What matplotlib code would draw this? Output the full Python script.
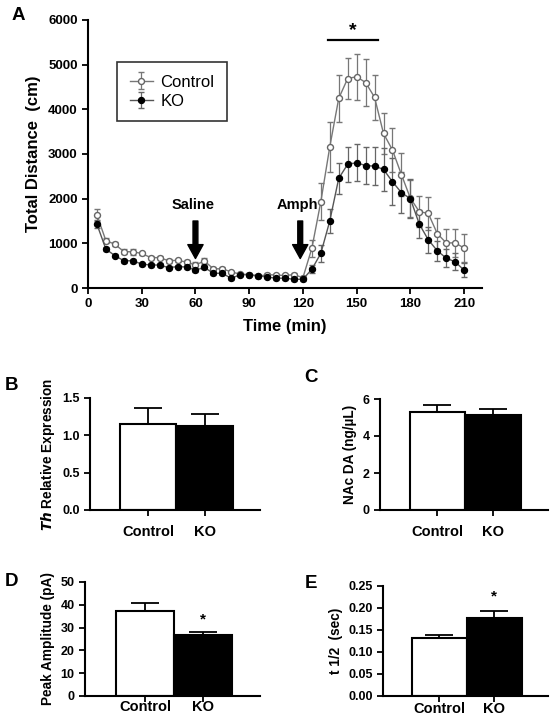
import matplotlib
matplotlib.use("Agg")
import matplotlib.pyplot as plt

plt.rcParams['font.family'] = ['Liberation Sans', 'DejaVu Sans']

# Panel A: locomotor activity (5-min bins)
time_min = list(range(5, 215, 5))
ctrl_dist = [1630, 1060, 980, 815, 810, 775, 680, 680, 610, 620, 580, 515,
             605, 430, 430, 360, 310, 300, 260, 300, 290, 280, 300, 230,
             890, 1930, 3160, 4245, 4690, 4730, 4600, 4270, 3460, 3090, 2540, 2010,
             1710, 1670, 1220, 1010, 1010, 895]
ctrl_sem = [130, 60, 50, 50, 60, 40, 40, 40, 40, 40, 40, 60,
            60, 40, 40, 30, 30, 30, 30, 30, 30, 30, 30, 30,
            190, 410, 560, 520, 460, 510, 520, 500, 450, 500, 480, 410,
            340, 370, 340, 300, 320, 310]
ko_dist = [1425, 870, 725, 610, 610, 535, 515, 515, 455, 480, 470, 400,
           460, 330, 330, 215, 300, 300, 275, 245, 220, 220, 195, 195,
           420, 775, 1500, 2455, 2770, 2805, 2740, 2730, 2655, 2380, 2135, 2000,
           1430, 1080, 835, 670, 585, 400]
ko_sem = [90, 50, 40, 40, 40, 35, 35, 35, 35, 35, 35, 40,
          40, 35, 35, 30, 30, 30, 30, 30, 30, 30, 30, 30,
          90, 190, 260, 340, 390, 420, 410, 420, 480, 520, 460, 430,
          320, 290, 220, 200, 190, 150]

groups = ['Control', 'KO']
th_expr = [1.15, 1.13]
th_err = [0.21, 0.16]
nac_da = [5.30, 5.12]
nac_err = [0.40, 0.36]
peak_amp = [37.2, 26.7]
peak_err = [3.6, 1.5]
t_half = [0.131, 0.178]
t_half_err = [0.008, 0.016]

W, H = 554, 721
fig = plt.figure(figsize=(W / 100, H / 100), dpi=100)


def px_axes(left, top, right, bottom):
    return fig.add_axes([left / W, 1 - bottom / H, (right - left) / W, (bottom - top) / H])


def style(ax, size):
    for s in ['top', 'right']:
        ax.spines[s].set_visible(False)
    for s in ['left', 'bottom']:
        ax.spines[s].set_linewidth(1.5)
    ax.tick_params(width=1.3, length=4, labelsize=size)
    for lab in ax.get_yticklabels() + ax.get_xticklabels():
        lab.set_fontweight('bold')


# ---- Panel A
ax = px_axes(88, 20, 482, 288)
ax.errorbar(time_min, ctrl_dist, yerr=ctrl_sem, color='#777777', lw=1.0,
            marker='o', ms=4.3, mfc='white', mec='#666666', mew=1.0,
            capsize=2.5, elinewidth=0.9, ecolor='#777777', label='Control', zorder=3)
ax.errorbar(time_min, ko_dist, yerr=ko_sem, color='#555555', lw=1.0,
            marker='o', ms=4.3, mfc='black', mec='black',
            capsize=2.5, elinewidth=0.9, ecolor='#666666', label='KO', zorder=3)
ax.set_xlim(0, 220)
ax.set_ylim(0, 6000)
ax.set_xticks(range(0, 211, 30))
ax.set_yticks(range(0, 6001, 1000))
style(ax, 9.5)
ax.set_xlabel('Time (min)', fontsize=12, fontweight='bold', labelpad=6)
ax.set_ylabel('Total Distance  (cm)', fontsize=12, fontweight='bold', labelpad=5)
leg = ax.legend(loc='upper left', bbox_to_anchor=(0.074, 0.843), borderaxespad=0,
                frameon=True, fancybox=False, edgecolor='black', fontsize=12,
                handlelength=1.4, borderpad=0.75, labelspacing=0.25, handletextpad=0.45)
leg.get_frame().set_linewidth(1.2)
for xt, label in [(60, 'Saline'), (118.5, 'Amph')]:
    ax.annotate('', xy=(xt, 660), xytext=(xt, 1500),
                arrowprops=dict(facecolor='black', edgecolor='black', width=3.5,
                                headwidth=11, headlength=10, shrink=0))
    ax.text(xt - 1.5, 1700, label, ha='center', va='bottom', fontsize=10.5, fontweight='bold')
ax.plot([134, 162], [5550, 5550], color='black', lw=1.6)
ax.text(148, 5580, '*', ha='center', va='bottom', fontsize=14, fontweight='bold')
fig.text(12 / W, 1 - 16 / H, 'A', fontsize=13.5, fontweight='bold', va='center')


def bar_panel(box, vals, errs, ylim, yticks, ylabel, letter, letter_xy, fmt,
              stars=None, xpad=7):
    ax = px_axes(*box)
    ax.bar([0, 1], vals, width=1.0, color=['white', 'black'], edgecolor='black', lw=1.5, zorder=2)
    for i in range(2):
        ax.errorbar(i, vals[i], yerr=[[0], [errs[i]]], color='black', lw=1.3,
                    capsize=10, capthick=1.3, zorder=1)
    ax.set_xlim(-1.03, 1.98)
    ax.set_ylim(*ylim)
    ax.set_yticks(yticks)
    ax.set_yticklabels([fmt.format(v) for v in yticks])
    ax.set_xticks([0, 1])
    ax.set_xticklabels(groups)
    style(ax, 9)
    ax.tick_params(axis='x', labelsize=10.5, pad=xpad)
    ax.set_ylabel(ylabel, fontsize=9.8, fontweight='bold')
    if stars:
        ax.text(1, stars, '*', ha='center', va='center', fontsize=11, fontweight='bold')
    fig.text(letter_xy[0] / W, 1 - letter_xy[1] / H, letter, fontsize=13.5,
             fontweight='bold', va='center')
    return ax


bar_panel((90, 398, 260, 510), th_expr, th_err, (0, 1.5), [0.0, 0.5, 1.0, 1.5],
          r'$\mathbfit{Th}$ Relative Expression', 'B', (5, 385), '{:.1f}')
bar_panel((380, 399, 548, 510), nac_da, nac_err, (0, 6), [0, 2, 4, 6],
          'NAc DA (ng/µL)', 'C', (304, 377), '{:d}')
bar_panel((85, 582, 260, 696), peak_amp, peak_err, (0, 50), [0, 10, 20, 30, 40, 50],
          'Peak Amplitude (pA)', 'D', (5, 582), '{:d}', stars=33.5, xpad=-1)
bar_panel((383, 586, 548, 696), t_half, t_half_err, (0, 0.25),
          [0.0, 0.05, 0.10, 0.15, 0.20, 0.25],
          't 1/2  (sec)', 'E', (305, 583), '{:.2f}', stars=0.226, xpad=0)

fig.savefig('out.png', dpi=100)
